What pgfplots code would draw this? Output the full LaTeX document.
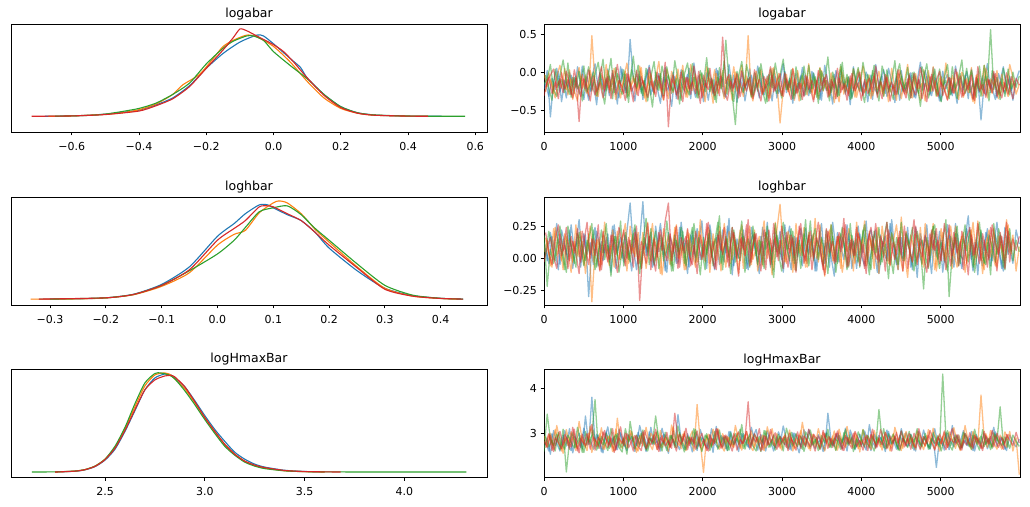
\documentclass[border=0pt]{standalone}
\usepackage{pgfplots}
\pgfplotsset{compat=1.18}
\usepackage{pgfplotstable}
\usepackage{fontspec}
\setmainfont{DejaVu Sans}
\definecolor{C0}{HTML}{1F77B4}
\definecolor{C1}{HTML}{FF7F0E}
\definecolor{C2}{HTML}{2CA02C}
\definecolor{C3}{HTML}{D62728}

\pgfplotstableread{
a b c d
-21 -2 -15 -30
3 -18 -8 -11
-58 -9 11 -3
-12 -27 -22 5
6 -5 -31 -19
-25 10 -4 -8
-9 -14 17 -26
-33 -22 -12 2
1 4 -28 -14
-17 -35 -6 -33
-4 -11 -19 -7
-28 7 2 -64
9 -20 -37 -2
-15 -3 -10 -21
-36 -29 8 4
-6 49 -24 -16
12 -13 -2 -29
-22 -31 14 -9
-3 -1 -17 8
-30 -16 -41 -24
5 3 -7 -5
-18 -24 19 -34
-10 6 -26 -12
-41 -12 -1 11
8 -33 -14 -18
-14 -7 4 -27
-26 13 -33 -1
44 -21 -9 -15
-8 -4 22 -38
-20 -28 -20 3
2 9 -5 -20
-35 -15 -30 -10
-7 -38 6 -25
10 0 -16 7
-24 -19 -45 -13
-13 -8 1 -31
-1 15 -23 -4
-31 -26 9 -22
7 -10 -12 14
-19 -34 -3 -71
-44 2 -27 -8
-5 -17 16 -17
-27 5 -8 -35
4 -25 -36 1
-16 -6 -2 -23
-2 -32 13 -6
-34 11 -21 -28
13 -14 -6 9
-22 -23 -33 -16
-9 -2 3 -40
-38 -30 -15 -3
0 8 20 -19
-12 -11 -25 6
-28 -40 -9 -26
6 -1 -39 -11
-17 -20 7 -30
-6 3 -18 47
-32 -27 43 -14
11 -9 -11 -2
-20 -36 -29 -24
-8 1 -68 -7
-25 -16 -4 -33
3 10 15 2
-37 -23 -20 -18
-11 49 -7 -9
-3 -31 -32 -29
-23 -7 0 4
9 -18 -24 -21
-15 4 12 -37
-29 -25 -13 -5
-4 -5 -38 -15
-18 -33 5 8
5 7 -17 -25
-33 -12 -27 -12
-10 -66 -3 -1
12 -22 18 -31
-26 -2 -22 -8
-7 -29 -10 -19
-40 6 -34 5
-1 -14 8 -27
-21 -37 -16 -13
7 -4 -1 -35
-14 -19 -29 -3
-30 12 10 -22
2 -26 -21 -10
-19 -8 -5 -28
-5 -34 -40 3
-36 3 2 -17
10 -15 -12 -6
-12 -24 21 -32
-24 0 -26 -9
-2 -39 -8 -20
-31 -10 -31 6
4 8 11 -26
-17 -28 -19 -14
-9 -6 -2 -36
-42 -21 -35 -4
8 5 6 -23
-20 -32 -14 -11
-6 -13 -24 1
-28 9 14 -30
1 -23 -9 -16
-13 -3 -30 -7
-35 -30 3 -25
11 -16 -18 9
-18 2 -37 -19
-4 -27 9 -34
-27 -9 -6 -2
6 -38 -25 -21
-11 6 -11 -12
-39 -20 16 -29
-8 -1 -28 4
3 -34 -4 -15
-24 -12 -21 -27
-15 11 7 -8
0 -25 -33 -33
-32 -5 1 -1
-10 -19 -15 -20
14 -36 -44 7
-22 4 -7 -13
-5 -14 12 -38
-29 -24 -23 -5
7 8 -2 -24
-16 -31 -30 -10
-37 -7 5 2
2 -22 -17 -30
-21 13 -10 -17
-7 -29 -34 -6
-30 -3 8 -26
9 -18 -20 5
-13 -35 -5 -14
-25 1 17 -32
-3 -11 -27 -9
-34 -26 -12 -22
5 7 3 -3
-19 -40 -24 -36
-8 -2 -8 8
-62 -21 -31 -18
-14 10 10 -27
12 -33 -16 -8
-26 -8 57 -21
-1 -17 -22 2
-33 3 -6 -31
-11 -30 -35 -12
8 -13 6 -25
-23 -24 -14 0
-5 11 -29 -19
-36 -6 1 -34
-10 -28 -19 -7
3 -15 -4 -16
}\traceA

\pgfplotstableread{
a b c d
-14 -25 -3 -19
-31 0 -20 -6
-7 -16 -36 -27
-22 -33 5 -12
2 -11 -17 -34
-38 -20 -9 0
-10 6 -26 -21
-19 -29 13 -9
-3 -8 -32 -29
-27 -24 -6 4
8 -37 -21 -16
-16 -4 -12 -31
-35 -18 9 -8
-5 -27 -25 -20
-24 3 -15 -37
-12 -14 1 -4
-42 -31 -30 -25
0 -9 -7 -13
-21 -22 18 -33
-9 11 -23 -7
-30 -26 -4 -22
-1 -5 -34 3
-17 -35 7 -28
-33 -12 -18 -10
5 -19 -28 -18
-26 2 -2 -36
-8 -30 -39 -2
-18 -15 4 -24
-37 -7 -14 -14
-2 -23 10 -30
-25 7 -27 -5
-13 -33 -10 -19
4 -16 -37 -32
-29 -1 -5 -11
-11 -28 15 -26
-20 -10 -22 1
-40 -21 -1 -17
-6 -36 -30 -35
-23 5 8 -9
-15 -13 -16 -23
1 -26 -24 -3
-34 -3 -8 -29
-9 -18 -41 -15
-19 10 3 -38
-28 -32 -19 -6
6 -8 -29 -21
-14 -23 12 -12
-32 -2 -11 -27
-4 -29 -33 2
-22 -15 0 -33
-10 -38 -25 -14
-36 -6 6 -22
-7 -20 -13 -8
-26 4 -35 -30
3 -27 -6 -16
-16 -12 -21 -4
-31 -34 16 -25
-12 -5 -28 -36
-21 -19 -3 -11
-3 8 -38 -20
-39 -24 2 -1
-8 -14 -17 -31
-24 -31 -26 -13
-15 -4 11 -24
5 -22 -9 -6
-29 -37 -31 -34
-11 2 -15 -19
-33 -17 7 -9
-1 -28 -24 -28
-20 -9 -40 -15
-13 -33 -2 -37
-37 6 -20 -3
-5 -19 13 -23
-27 -1 -12 -12
-16 -30 -33 -30
2 -12 -7 0
-22 -25 -22 -21
-9 -6 4 -35
-34 -36 -29 -8
-18 3 -14 -26
-4 -21 -36 -14
-30 -11 9 -31
-12 -29 -18 -5
-25 -2 -27 -20
0 -35 -1 -38
-17 -16 -32 -10
-35 7 6 -25
-7 -24 -23 -17
-23 -10 -10 -2
-14 -31 -37 -29
-41 -4 1 -12
3 -20 -16 -34
-19 -38 -30 -7
-10 1 14 -22
-28 -15 -25 -16
-6 -27 -5 -30
-32 -7 -34 -1
-15 -32 -11 -24
1 5 7 -13
-24 -18 -21 -36
-11 -26 -39 -9
-38 -9 -2 -27
-3 -34 -15 -18
-20 0 10 -4
-27 -22 -28 -32
-8 -13 -8 -11
4 -30 -31 -23
-31 -3 4 -6
-16 -25 -20 -37
-21 -17 -35 -15
-5 -36 -3 -28
-36 4 12 -10
-13 -12 -24 -21
-26 -28 -13 -33
-1 -8 -36 -3
-18 -33 0 -19
-33 -1 -18 -29
-9 -21 -27 -8
-23 -14 8 -34
3 -37 -9 -14
-14 3 -33 -25
-30 -24 -16 -2
-6 -10 5 -18
-19 -29 -23 -31
-37 -5 -38 -12
-11 -19 -6 -22
-2 -35 11 -36
-28 -11 -29 -7
-15 -26 -12 -27
-40 1 -34 -16
-7 -16 -1 -4
-22 -32 -19 -30
2 -7 6 -21
-17 -23 -26 -11
-34 -38 -14 -35
-12 -3 -32 -6
-25 -20 9 -24
-4 -30 -22 -15
-29 6 -4 -32
-10 -14 -37 -9
-20 -27 3 -26
-35 -9 -17 -1
-1 -34 -28 -20
-16 -2 -8 -33
-27 -18 -31 -13
-8 -31 5 -28
-23 -11 -21 -5
-13 -22 -10 -17
}\traceAA

\pgfplotstableread{
a b c d
12 5 18 -3
-2 14 -22 9
20 -6 7 16
7 23 -4 1
27 2 12 -8
-5 11 25 19
15 -9 3 6
3 17 -11 24
22 8 15 -2
-8 -3 5 13
10 26 -7 4
30 1 20 -12
0 13 9 21
18 -12 -2 7
-30 19 14 -5
9 -34 27 15
24 6 -9 2
-6 15 4 26
13 -5 22 -9
4 28 -1 11
19 3 10 -3
-11 10 -14 18
26 -7 17 5
6 21 2 -11
16 -1 29 8
-3 12 -6 22
21 -10 11 0
43 25 -3 14
8 4 19 -7
-9 16 6 25
14 -4 -12 -33
44 20 13 9
2 -8 31 -4
17 9 -5 17
-7 27 8 3
25 -2 21 -10
5 14 -8 20
12 -13 16 6
-10 7 2 29
20 18 11 43
1 -6 -10 -2
15 24 18 12
-4 0 5 -8
28 11 24 16
7 -9 -4 4
-12 22 14 23
18 5 -1 -6
3 16 27 10
23 -3 7 -12
-1 30 -13 18
11 2 16 1
-8 13 3 27
26 -11 22 -4
9 19 -6 13
16 -2 12 -9
-5 25 33 21
22 8 -9 3
4 -7 17 15
31 21 1 -7
-13 -1 24 24
13 14 -3 7
0 -12 10 -14
19 26 29 16
6 3 -11 2
-9 17 15 30
24 -5 4 -3
10 22 20 19
-3 -10 -5 6
17 11 13 -10
2 29 -8 22
28 0 25 11
-7 15 6 -5
14 -9 -15 27
5 22 18 1
21 42 3 14
-11 7 28 -8
12 -4 9 20
25 18 -2 4
-2 -11 21 16
16 27 -10 -11
8 4 14 25
-6 13 2 7
23 -7 30 -2
3 20 -6 18
18 1 11 -9
-10 31 23 12
11 -3 -1 28
27 15 16 0
-4 -14 5 -13
15 9 -12 21
1 26 26 9
-14 -2 8 -4
20 17 -4 17
9 -8 19 5
-1 23 12 31
26 5 -9 -7
6 12 27 14
13 -10 1 2
-8 28 15 24
19 3 -7 -6
4 16 22 11
29 -6 6 -12
-5 21 -13 19
12 0 17 6
22 14 4 27
-12 -12 24 -3
8 25 -3 13
17 6 11 -10
-2 -4 -16 22
30 19 20 8
5 10 7 -1
-9 -9 -5 16
16 32 28 3
2 4 -2 25
24 -15 14 -8
-7 18 2 10
11 7 -10 30
-15 -3 21 -5
19 24 9 15
7 -7 -24 1
26 13 16 -11
-3 2 -1 19
14 27 25 7
1 -10 6 23
21 9 -8 -4
-11 20 13 12
9 -1 30 -9
18 15 -30 26
-4 -8 4 2
27 25 19 16
4 3 -6 -6
-8 17 10 21
15 -11 26 8
33 8 -3 -13
-1 22 15 18
12 -5 -11 3
-13 29 7 27
20 6 22 -2
6 -9 -4 14
23 16 12 -7
-6 1 -13 24
10 23 27 9
28 -7 3 -10
2 12 18 20
-10 -2 -7 5
17 30 9 28
7 4 23 -3
-4 18 -2 15
22 -10 14 6
11 9 5 17
}\traceB

\pgfplotstableread{
a b c d
8 16 2 20
-4 3 21 5
17 -7 10 -5
5 24 -2 14
-9 9 15 26
22 -2 6 2
11 19 -9 10
-1 6 25 -8
26 -11 11 17
6 13 -4 4
14 2 19 23
-7 21 8 -3
19 -5 -6 12
3 10 14 28
12 25 3 0
-5 -3 22 15
21 14 -7 6
9 -9 12 -10
-2 18 4 21
16 4 27 9
4 -6 -3 -1
25 22 9 18
-8 7 17 3
13 -1 -11 24
0 15 6 11
18 27 20 -6
7 -4 -1 16
-10 11 13 4
23 1 26 20
10 20 2 -4
-3 -8 -8 13
15 12 16 7
2 28 5 27
20 -2 23 -9
-6 16 -5 15
11 5 10 1
27 -12 18 22
4 23 -2 8
-11 8 29 -2
17 -5 7 19
8 14 -10 5
-4 26 14 25
24 0 3 -7
6 10 21 11
14 -9 -6 17
-7 19 11 2
21 4 24 -5
1 -7 -3 21
12 21 16 9
29 12 6 -1
-2 -3 -9 14
16 24 19 28
5 1 1 3
-9 15 12 -8
19 7 28 18
8 -10 -4 6
-3 27 9 24
25 9 15 -3
10 -4 -12 12
-6 18 22 20
15 3 5 0
3 22 -2 15
22 -8 17 7
-8 13 8 26
11 25 -7 -6
18 -1 25 10
2 8 2 19
-12 17 14 3
24 -6 -5 13
7 20 20 -9
13 10 11 22
-5 -13 -1 5
20 28 27 16
9 4 4 -2
-1 14 -10 25
26 -3 16 9
5 21 7 -7
-9 6 23 18
17 -9 -4 2
1 16 12 14
23 2 -8 27
10 24 19 -4
-4 -7 5 11
15 11 29 21
6 19 -2 0
-10 0 14 16
21 26 8 7
3 -5 -6 -9
12 13 22 23
-7 22 1 4
28 -2 17 13
8 9 -11 -3
-3 17 10 20
16 -11 24 8
4 5 3 26
19 23 -7 -6
-8 12 18 15
11 -4 7 2
25 20 -3 19
2 7 13 10
-6 29 26 -8
14 -1 0 14
22 15 -9 24
7 -8 21 5
-11 24 9 -1
18 10 -5 17
5 1 15 9
-2 18 28 28
27 -6 4 -5
9 13 -12 12
-5 26 16 3
16 3 6 21
0 -10 -2 -10
20 21 19 16
12 8 11 7
-9 -3 24 -3
24 19 -6 25
4 11 8 10
-4 -5 14 1
17 27 2 18
8 2 -8 -7
-12 16 20 22
21 -9 26 6
6 6 -1 14
14 23 12 -2
-3 -2 3 27
26 14 -10 9
10 25 17 -6
-7 4 7 20
19 -7 25 4
2 12 -4 13
-1 20 15 -9
23 -4 6 16
9 9 22 24
-10 28 -7 2
15 0 10 11
5 15 28 -4
-6 -12 1 19
20 11 -5 7
11 22 18 -1
-2 5 9 26
18 -6 -3 12
7 17 23 3
-8 8 13 17
24 -1 -9 -8
3 26 16 21
13 3 5 6
}\traceBB

\pgfplotstableread{
a b c d
268 295 261 283
290 272 343 270
255 301 288 297
307 266 274 261
279 318 299 288
262 283 265 305
296 257 310 275
273 309 216 292
311 278 284 266
258 292 302 314
285 263 270 281
301 327 291 258
267 286 259 299
339 270 305 273
276 301 282 289
380 259 296 320
283 288 375 264
297 274 268 292
260 313 294 279
289 266 281 307
315 295 263 270
271 280 312 291
294 262 276 259
265 334 300 284
302 277 269 315
280 290 290 274
263 268 255 300
299 307 327 287
286 285 283 262
274 259 297 296
318 296 272 276
288 273 308 304
261 314 264 267
304 279 291 290
277 265 278 282
293 302 339 310
268 287 285 261
312 270 262 296
282 293 303 273
257 261 276 285
296 319 296 268
274 282 270 345
342 298 317 288
285 267 281 277
266 305 260 301
300 276 295 265
278 289 283 292
291 262 311 279
263 364 267 306
309 281 293 270
284 215 274 287
270 296 300 263
297 273 263 298
259 310 289 275
316 285 280 311
280 266 308 284
293 300 272 269
267 279 294 297
305 291 264 281
276 271 286 262
289 318 300 291
261 287 277 304
300 264 320 278
283 297 266 287
271 278 292 370
314 306 275 271
286 269 298 300
264 292 283 284
298 280 261 262
277 263 307 296
306 315 285 275
284 286 271 309
262 274 297 281
293 300 279 266
275 268 294 293
317 293 262 285
287 279 312 270
266 308 287 301
302 262 273 279
280 289 300 264
258 276 281 297
295 325 266 287
272 283 304 272
309 267 291 310
283 299 275 283
268 271 287 262
298 311 263 295
279 284 296 279
264 262 280 301
345 295 310 268
285 277 269 289
272 306 290 278
301 264 284 306
277 289 266 282
292 275 302 263
262 316 277 292
308 281 298 279
286 269 261 301
271 297 288 272
299 260 272 285
279 309 309 264
264 284 283 297
320 272 269 281
281 298 295 310
270 276 275 268
296 291 353 289
285 264 285 276
261 303 267 303
305 280 300 283
276 270 278 262
290 314 293 295
267 287 264 280
311 263 306 306
283 300 283 271
272 279 270 290
299 292 298 266
264 271 282 301
287 306 311 283
275 282 268 265
308 265 293 294
282 296 280 279
266 277 267 307
294 312 302 289
226 283 284 274
289 262 271 299
274 294 431 283
302 275 292 265
265 304 276 292
318 287 264 311
281 268 297 277
297 297 283 287
269 272 270 264
286 318 300 301
273 283 286 284
305 265 266 272
262 299 310 296
290 276 279 282
278 385 295 268
300 289 272 305
267 270 288 279
285 307 265 294
314 281 302 271
272 266 284 301
293 297 359 283
279 284 276 266
263 270 292 298
297 305 268 286
283 262 297 274
271 291 283 303
288 210 272 280
}\traceC

\pgfplotstableread{
a b c d
281 269 294 276
262 298 271 300
300 275 286 263
274 309 262 291
291 283 303 280
268 262 278 267
307 290 266 298
279 274 297 285
263 304 281 271
295 286 269 310
284 268 314 262
270 296 283 289
312 279 259 277
275 263 292 300
287 317 277 266
266 287 308 293
299 272 264 282
282 300 289 268
258 266 276 304
304 281 301 287
277 295 268 275
290 261 285 311
265 310 298 264
310 278 270 290
283 268 260 279
271 293 311 301
297 284 282 269
286 305 294 284
261 273 267 296
303 262 286 272
279 296 301 263
292 282 274 307
268 269 262 286
314 301 290 276
276 288 279 298
284 265 306 265
262 307 271 291
299 278 284 280
289 292 263 303
272 270 296 270
306 315 287 288
281 283 269 262
265 274 302 299
294 299 280 283
278 263 265 312
288 289 292 274
260 306 275 293
302 276 309 266
273 292 283 284
291 264 261 301
285 283 297 275
267 299 288 262
311 271 271 290
280 287 305 279
269 311 266 309
296 275 281 268
284 262 293 296
263 294 263 285
305 282 302 273
277 270 276 300
289 301 289 264
271 268 310 287
300 288 268 278
283 305 284 305
266 274 299 269
293 263 273 292
309 292 262 282
275 280 294 311
287 297 281 265
262 269 306 294
297 284 270 276
280 311 287 288
270 273 264 302
304 289 298 271
285 264 279 283
276 300 291 296
292 278 267 263
264 292 303 289
301 267 283 277
288 283 272 304
272 307 295 268
309 275 261 295
281 289 288 284
268 263 308 272
295 298 276 299
278 281 291 288
286 269 266 266
261 303 284 307
303 286 300 279
290 272 270 293
274 295 286 270
298 264 263 301
283 310 297 285
267 282 281 264
312 270 309 296
279 291 275 280
293 279 290 268
265 302 267 305
287 267 304 289
272 288 285 276
306 277 271 292
284 296 296 263
263 265 280 298
299 307 262 283
280 284 293 271
291 271 277 309
270 293 311 287
308 283 269 267
277 262 286 295
285 300 299 279
266 276 275 303
296 292 263 266
282 268 290 290
302 305 281 273
274 279 305 300
288 290 268 282
262 265 294 269
305 301 284 311
278 287 272 286
294 272 301 274
269 309 266 297
283 284 289 281
311 266 278 264
276 294 296 292
289 278 262 278
264 303 285 306
300 270 307 270
284 288 274 289
271 313 292 280
296 281 280 298
282 263 267 265
307 296 303 285
275 284 288 275
290 273 271 302
263 305 296 268
298 279 282 293
281 291 264 281
269 268 309 263
293 300 277 296
286 282 290 277
272 271 268 307
304 295 299 284
279 283 283 270
292 266 274 291
266 304 293 279
283 287 270 299
}\traceCC

\pgfplotsset{
  panel/.style={
    scale only axis, width=476pt, height=108pt, anchor=south west,
    axis line style={line width=0.8pt, black},
    tick style={line width=0.8pt, black},
    major tick length=3.5pt,
    tick align=outside,
    xtick pos=bottom, ytick pos=left,
    tick label style={font=\fontsize{11}{13}\selectfont},
    xticklabel style={yshift=-3pt},
    title style={font=\fontsize{12.5}{14}\selectfont, at={(0.5,1)}, anchor=base, yshift=0pt},
    /pgf/number format/assume math mode=true,
  },
  kde/.style={panel, ytick=\empty},
  trace/.style={panel, xmin=0, xmax=5999, xtick={0,1000,2000,3000,4000,5000},
    xticklabels={0,1000,2000,3000,4000,5000}},
  kl/.style={line width=1.1pt, smooth, tension=0.4},
  tl/.style={line width=1.3pt, opacity=0.5, line join=round},
}
% one chain = two interleaved halves of typed draws
\newcommand{\chain}[4]{%
  \addplot[#1, tl] table[x expr=\coordindex*40.2, y expr=\thisrow{#2}/100] {#3};
  \addplot[#1, tl] table[x expr=20.1+\coordindex*40.2, y expr=\thisrow{#2}/100] {#4};}

\begin{document}
\begin{tikzpicture}
\path[use as bounding box] (0,0) rectangle (1030pt,506pt);

% ---------- row 1 left
\begin{axis}[kde, at={(11pt,374pt)}, title={logabar},
  xmin=-0.781, xmax=0.635, ymin=-0.18, ymax=1.057,
  xtick={-0.6,-0.4,-0.2,0,0.2,0.4,0.6},
  xticklabels={−0.6,−0.4,−0.2,0.0,0.2,0.4,0.6}]
\addplot[C0, kl] coordinates {(-0.68,0) (-0.6,0.005) (-0.55,0.012) (-0.5,0.025) (-0.45,0.045) (-0.4,0.07) (-0.35,0.13) (-0.3,0.21) (-0.25,0.35) (-0.2,0.55) (-0.15,0.72) (-0.1,0.85) (-0.05,0.93) (-0.03,0.92) (0,0.83) (0.05,0.66) (0.08,0.56) (0.1,0.44) (0.15,0.25) (0.2,0.11) (0.25,0.04) (0.3,0.015) (0.35,0.006) (0.4,0.002) (0.5,0)};
\addplot[C1, kl] coordinates {(-0.67,0) (-0.6,0.004) (-0.5,0.022) (-0.45,0.04) (-0.4,0.075) (-0.35,0.14) (-0.3,0.25) (-0.27,0.36) (-0.22,0.48) (-0.18,0.66) (-0.15,0.8) (-0.12,0.87) (-0.08,0.93) (-0.05,0.91) (0,0.80) (0.05,0.62) (0.1,0.40) (0.15,0.21) (0.2,0.09) (0.25,0.035) (0.3,0.012) (0.4,0.002) (0.46,0)};
\addplot[C2, kl] coordinates {(-0.65,0) (-0.55,0.01) (-0.5,0.025) (-0.45,0.055) (-0.4,0.09) (-0.35,0.15) (-0.3,0.25) (-0.25,0.38) (-0.2,0.6) (-0.15,0.78) (-0.12,0.86) (-0.08,0.92) (-0.06,0.92) (-0.03,0.87) (0,0.74) (0.05,0.58) (0.1,0.43) (0.15,0.25) (0.2,0.11) (0.25,0.04) (0.3,0.015) (0.4,0.003) (0.5,0) (0.57,0)};
\addplot[C3, kl] coordinates {(-0.72,0) (-0.6,0.004) (-0.5,0.02) (-0.4,0.06) (-0.35,0.12) (-0.3,0.2) (-0.25,0.34) (-0.2,0.55) (-0.15,0.76) (-0.12,0.9) (-0.1,1.0) (-0.08,0.98) (-0.05,0.92) (0,0.82) (0.03,0.74) (0.06,0.62) (0.1,0.44) (0.15,0.24) (0.2,0.1) (0.25,0.035) (0.3,0.012) (0.4,0.002) (0.46,0)};
\end{axis}

% ---------- row 1 right
\begin{axis}[trace, at={(544pt,374pt)}, title={logabar},
  ymin=-0.778, ymax=0.643, ytick={-0.5,0,0.5}, yticklabels={−0.5,0.0,0.5}]
\chain{C0}{a}{\traceA}{\traceAA}
\chain{C1}{b}{\traceA}{\traceAA}
\chain{C2}{c}{\traceA}{\traceAA}
\chain{C3}{d}{\traceA}{\traceAA}
\end{axis}

% ---------- row 2 left
\begin{axis}[kde, at={(11pt,201pt)}, title={loghbar},
  xmin=-0.37, xmax=0.483, ymin=-0.06, ymax=1.04,
  xtick={-0.3,-0.2,-0.1,0,0.1,0.2,0.3,0.4},
  xticklabels={−0.3,−0.2,−0.1,0.0,0.1,0.2,0.3,0.4}]
\addplot[C0, kl] coordinates {(-0.32,0) (-0.25,0.003) (-0.2,0.013) (-0.15,0.05) (-0.1,0.15) (-0.05,0.33) (0,0.64) (0.03,0.77) (0.05,0.87) (0.075,0.96) (0.09,0.96) (0.1,0.93) (0.125,0.86) (0.15,0.8) (0.175,0.68) (0.2,0.52) (0.25,0.29) (0.3,0.11) (0.35,0.035) (0.4,0.008) (0.44,0)};
\addplot[C1, kl] coordinates {(-0.335,0) (-0.25,0.002) (-0.2,0.012) (-0.15,0.045) (-0.1,0.13) (-0.05,0.27) (0,0.55) (0.03,0.66) (0.05,0.7) (0.075,0.88) (0.1,0.98) (0.11,1.0) (0.125,0.98) (0.15,0.87) (0.175,0.71) (0.2,0.58) (0.25,0.33) (0.3,0.11) (0.35,0.03) (0.4,0.006) (0.43,0)};
\addplot[C2, kl] coordinates {(-0.3,0) (-0.2,0.013) (-0.15,0.048) (-0.1,0.14) (-0.05,0.29) (0,0.46) (0.03,0.6) (0.05,0.73) (0.075,0.89) (0.1,0.93) (0.125,0.95) (0.15,0.86) (0.175,0.72) (0.2,0.6) (0.25,0.36) (0.3,0.14) (0.35,0.04) (0.4,0.008) (0.44,0)};
\addplot[C3, kl] coordinates {(-0.32,0) (-0.2,0.013) (-0.15,0.048) (-0.1,0.14) (-0.05,0.3) (0,0.6) (0.03,0.72) (0.05,0.8) (0.075,0.94) (0.09,0.95) (0.1,0.94) (0.125,0.87) (0.15,0.8) (0.175,0.68) (0.2,0.55) (0.25,0.32) (0.3,0.1) (0.35,0.03) (0.4,0.007) (0.44,0)};
\end{axis}

% ---------- row 2 right
\begin{axis}[trace, at={(544pt,201pt)}, title={loghbar},
  ymin=-0.365, ymax=0.477, ytick={-0.25,0,0.25}, yticklabels={−0.25,0.00,0.25}]
\chain{C0}{a}{\traceB}{\traceBB}
\chain{C1}{b}{\traceB}{\traceBB}
\chain{C2}{c}{\traceB}{\traceBB}
\chain{C3}{d}{\traceB}{\traceBB}
\end{axis}

% ---------- row 3 left
\begin{axis}[kde, at={(11pt,29pt)}, title={logHmaxBar},
  xmin=2.029, xmax=4.414, ymin=-0.05, ymax=1.04,
  xtick={2.5,3.0,3.5,4.0}, xticklabels={2.5,3.0,3.5,4.0}]
\addplot[C0, kl] coordinates {(2.25,0) (2.35,0.008) (2.4,0.022) (2.45,0.055) (2.5,0.12) (2.55,0.23) (2.6,0.41) (2.65,0.62) (2.7,0.83) (2.75,0.95) (2.8,0.99) (2.83,0.98) (2.85,0.95) (2.9,0.86) (2.95,0.72) (3.0,0.57) (3.05,0.43) (3.1,0.31) (3.15,0.2) (3.2,0.13) (3.25,0.08) (3.3,0.05) (3.4,0.018) (3.5,0.006) (3.6,0)};
\addplot[C1, kl] coordinates {(2.25,0) (2.35,0.01) (2.4,0.025) (2.45,0.06) (2.5,0.13) (2.55,0.25) (2.6,0.44) (2.65,0.66) (2.7,0.87) (2.75,0.98) (2.8,1.0) (2.83,0.98) (2.85,0.94) (2.9,0.84) (2.95,0.7) (3.0,0.55) (3.05,0.41) (3.1,0.28) (3.15,0.18) (3.2,0.11) (3.25,0.065) (3.3,0.04) (3.4,0.013) (3.5,0.004) (3.6,0)};
\addplot[C2, kl] coordinates {(2.133,0) (2.25,0.002) (2.35,0.01) (2.4,0.025) (2.45,0.06) (2.5,0.13) (2.55,0.26) (2.6,0.45) (2.65,0.69) (2.7,0.9) (2.75,0.995) (2.78,1.0) (2.82,0.98) (2.85,0.94) (2.9,0.82) (2.95,0.68) (3.0,0.53) (3.05,0.39) (3.1,0.26) (3.15,0.17) (3.2,0.1) (3.25,0.06) (3.3,0.035) (3.4,0.012) (3.5,0.004) (3.7,0.001) (4.0,0.0005) (4.31,0)};
\addplot[C3, kl] coordinates {(2.25,0) (2.35,0.009) (2.4,0.024) (2.45,0.057) (2.5,0.125) (2.55,0.24) (2.6,0.42) (2.65,0.63) (2.7,0.83) (2.75,0.93) (2.8,0.97) (2.83,0.975) (2.85,0.96) (2.9,0.86) (2.95,0.71) (3.0,0.55) (3.05,0.41) (3.1,0.28) (3.15,0.18) (3.2,0.11) (3.25,0.07) (3.3,0.045) (3.4,0.016) (3.5,0.005) (3.68,0)};
\end{axis}

% ---------- row 3 right
\begin{axis}[trace, at={(544pt,29pt)}, title={logHmaxBar},
  ymin=2.05, ymax=4.42, ytick={3,4}, yticklabels={3,4}]
\chain{C0}{a}{\traceC}{\traceCC}
\chain{C1}{b}{\traceC}{\traceCC}
\chain{C2}{c}{\traceC}{\traceCC}
\chain{C3}{d}{\traceC}{\traceCC}
\end{axis}
\end{tikzpicture}
\end{document}
